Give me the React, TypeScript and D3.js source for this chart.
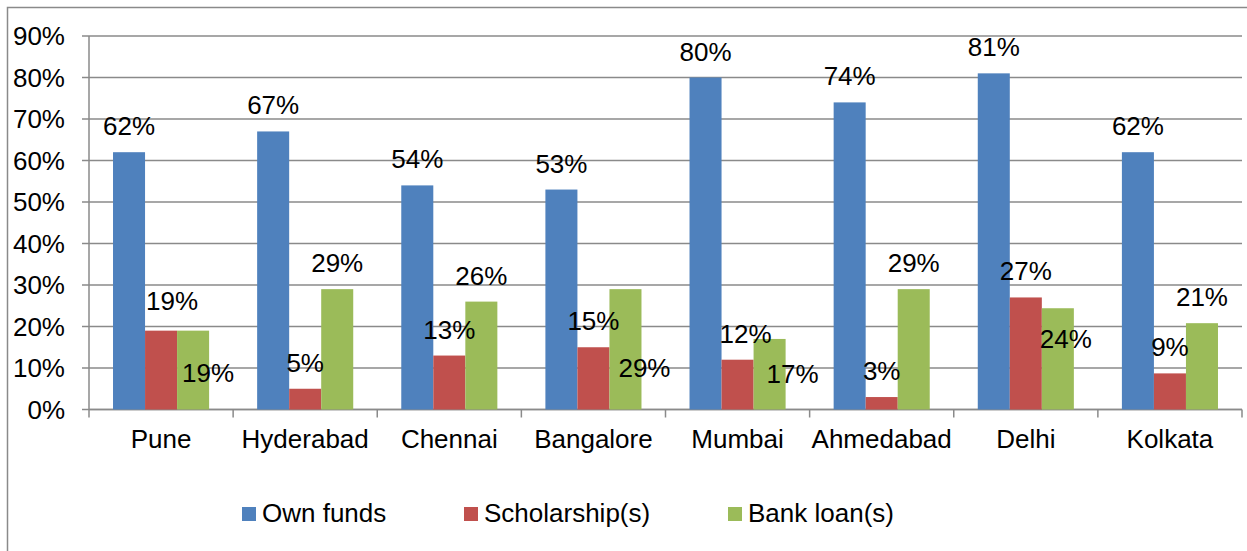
import React, { useRef, useEffect } from 'react';
import * as d3 from 'd3';

const cities = ['Pune', 'Hyderabad', 'Chennai', 'Bangalore', 'Mumbai', 'Ahmedabad', 'Delhi', 'Kolkata'];
const seriesNames = ['Own funds', 'Scholarship(s)', 'Bank loan(s)'];
const ownFunds = [62, 67, 54, 53, 80, 74, 81, 62];
const scholarships = [19, 5, 13, 15, 12, 3, 27, 8.7];
const bankLoans = [19, 29, 26, 29, 17, 29, 24.4, 20.8];
const valueLabels = [
  ['62%', '67%', '54%', '53%', '80%', '74%', '81%', '62%'],
  ['19%', '5%', '13%', '15%', '12%', '3%', '27%', '9%'],
  ['19%', '29%', '26%', '29%', '17%', '29%', '24%', '21%'],
];
const yTicks = [0, 10, 20, 30, 40, 50, 60, 70, 80, 90];

const colors = ['#4F81BD', '#C0504D', '#9BBB59'];

// hand-placed data labels in the original: [dx, dy] away from the default spot above the bar
const labelNudge: Record<string, [number, number]> = {
  '1-Pune': [11, -4],
  '1-Mumbai': [8, 0],
  '2-Pune': [15, 68],
  '2-Bangalore': [19, 105],
  '2-Mumbai': [23, 61],
  '2-Delhi': [8, 57],
};

const W = 1247;
const H = 551;
const FONT = '"Liberation Sans", Arial, sans-serif';

const App: React.FC = () => {
  const svgRef = useRef<SVGSVGElement | null>(null);

  useEffect(() => {
    if (!svgRef.current) return;
    const svg = d3.select(svgRef.current);
    svg.selectAll('*').remove();

    const left = 89, right = 1242, top = 36, bottom = 409.5;
    const seriesValues = [ownFunds, scholarships, bankLoans];

    const x = d3.scaleBand().domain(cities).range([left, right]).padding(0);
    const xInner = d3.scaleBand()
      .domain(seriesNames)
      .range([0, x.bandwidth()])
      .paddingInner(0)
      .paddingOuter(0.75);
    const y = d3.scaleLinear().domain([0, 90]).range([bottom, top]);

    // outer chart border
    svg.append('rect')
      .attr('x', 7.5).attr('y', 7.5)
      .attr('width', W + 20).attr('height', H + 20)
      .attr('fill', 'none')
      .attr('stroke', '#8a8a8a')
      .attr('stroke-width', 1.5);

    // gridlines + y labels
    svg.append('g')
      .selectAll('line')
      .data(yTicks)
      .enter()
      .append('line')
      .attr('x1', left - 7).attr('x2', right)
      .attr('y1', d => y(d)).attr('y2', d => y(d))
      .attr('stroke', '#8a8a8a')
      .attr('stroke-width', 1.5);

    svg.append('g')
      .selectAll('text')
      .data(yTicks)
      .enter()
      .append('text')
      .attr('x', 65)
      .attr('y', d => y(d))
      .attr('dy', '0.35em')
      .attr('text-anchor', 'end')
      .style('font-family', FONT)
      .style('font-size', '26px')
      .attr('fill', '#000')
      .text(d => `${d}%`);

    // axes lines
    svg.append('line')
      .attr('x1', left).attr('x2', left)
      .attr('y1', top).attr('y2', bottom)
      .attr('stroke', '#8a8a8a').attr('stroke-width', 1.5);

    const xAxis = d3.axisBottom(x).tickSize(0).tickFormat(() => '');
    const xAxisG = svg.append('g')
      .attr('transform', `translate(0, ${bottom})`)
      .call(xAxis);
    xAxisG.select('.domain').remove();
    xAxisG.append('line')
      .attr('x1', left).attr('x2', right)
      .attr('stroke', '#8a8a8a').attr('stroke-width', 1.5);
    const boundaries = cities.map(c => x(c) as number).concat([right]);
    xAxisG.selectAll('.bound')
      .data(boundaries)
      .enter()
      .append('line')
      .attr('class', 'bound')
      .attr('x1', d => d).attr('x2', d => d)
      .attr('y1', 0).attr('y2', 8)
      .attr('stroke', '#8a8a8a').attr('stroke-width', 1.5);

    svg.append('g')
      .selectAll('text')
      .data(cities)
      .enter()
      .append('text')
      .attr('x', d => (x(d) as number) + x.bandwidth() / 2)
      .attr('y', bottom + 38)
      .attr('text-anchor', 'middle')
      .style('font-family', FONT)
      .style('font-size', '26px')
      .attr('fill', '#000')
      .text(d => d);

    // bars
    seriesNames.forEach((s, si) => {
      const vals = seriesValues[si];
      svg.append('g')
        .selectAll('rect')
        .data(cities)
        .enter()
        .append('rect')
        .attr('x', c => (x(c) as number) + (xInner(s) as number))
        .attr('y', (c, i) => y(vals[i]))
        .attr('width', xInner.bandwidth())
        .attr('height', (c, i) => bottom - y(vals[i]))
        .attr('fill', colors[si]);
    });

    // data labels
    seriesNames.forEach((s, si) => {
      const vals = seriesValues[si];
      svg.append('g')
        .selectAll('text')
        .data(cities)
        .enter()
        .append('text')
        .attr('x', c => {
          const n = labelNudge[`${si}-${c}`] || [0, 0];
          return (x(c) as number) + (xInner(s) as number) + xInner.bandwidth() / 2 + n[0];
        })
        .attr('y', (c, i) => {
          const n = labelNudge[`${si}-${c}`] || [0, 0];
          return y(vals[i]) - 17 + n[1];
        })
        .attr('text-anchor', 'middle')
        .style('font-family', FONT)
        .style('font-size', '26px')
        .attr('fill', '#000')
        .text((c, i) => valueLabels[si][i]);
    });

    // legend
    const legendX = [242, 464, 728];
    const legend = svg.append('g');
    seriesNames.forEach((s, si) => {
      legend.append('rect')
        .attr('x', legendX[si]).attr('y', 507)
        .attr('width', 14).attr('height', 14)
        .attr('fill', colors[si]);
      legend.append('text')
        .attr('x', legendX[si] + 20)
        .attr('y', 522)
        .style('font-family', FONT)
        .style('font-size', '26px')
        .attr('fill', '#000')
        .text(s);
    });
  }, []);

  return (
    <div style={{ position: 'absolute', left: 0, top: 0, width: W, height: H, background: '#fff' }}>
      <svg ref={svgRef} width={W} height={H} style={{ display: 'block' }}></svg>
    </div>
  );
};

export default App;
